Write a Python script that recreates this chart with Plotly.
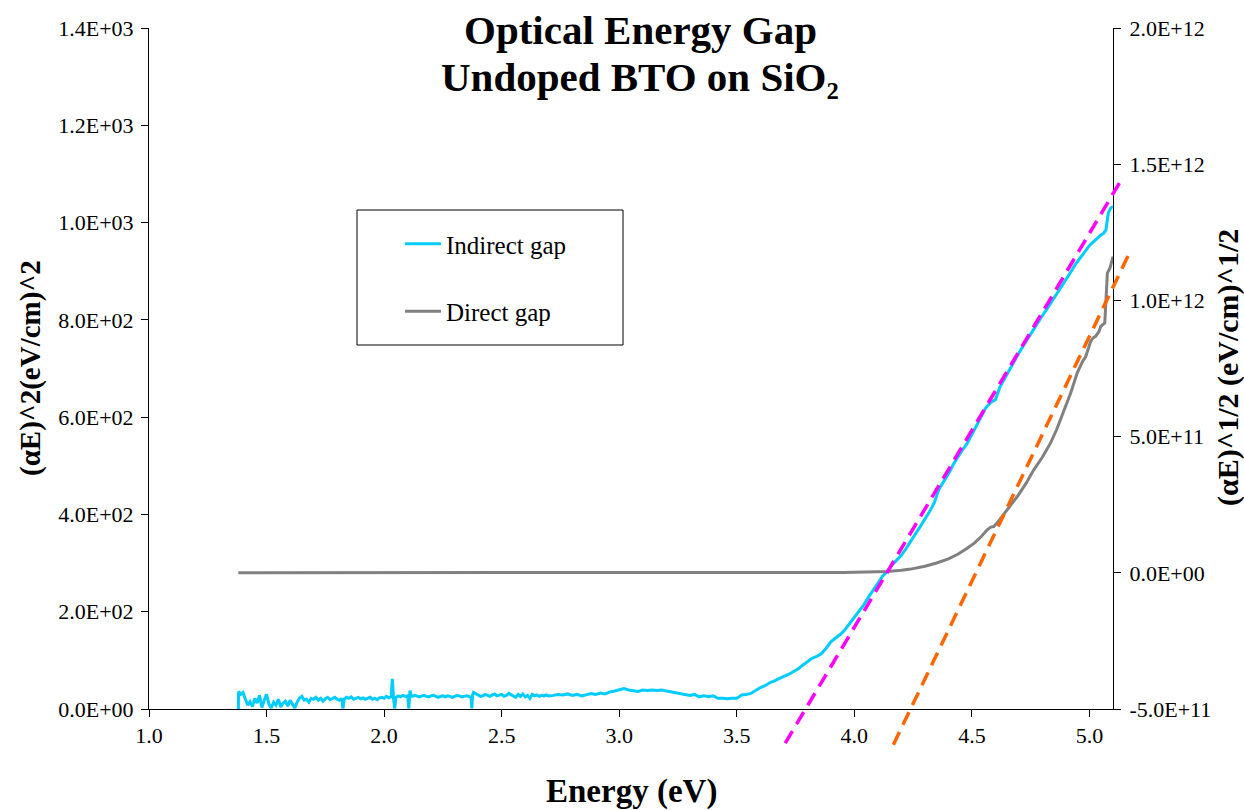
import plotly.graph_objects as go

# ---------------------------------------------------------------- data
# Indirect gap: (alpha*E)^2 versus photon energy (left axis)
indirect_E = [
    1.380, 1.381, 1.39, 1.40, 1.41, 1.42, 1.43, 1.44, 1.45, 1.46, 1.47, 1.48, 1.49,
    1.50, 1.51, 1.52, 1.53, 1.54, 1.55, 1.56, 1.57, 1.58, 1.59, 1.60, 1.61, 1.62,
    1.63, 1.64, 1.65, 1.66, 1.67, 1.68, 1.69, 1.70, 1.71, 1.72, 1.73, 1.74, 1.75,
    1.76, 1.77, 1.78, 1.79, 1.80, 1.81, 1.82, 1.825, 1.83, 1.84, 1.85, 1.86, 1.87,
    1.88, 1.89, 1.90, 1.91, 1.92, 1.93, 1.94, 1.95, 1.96, 1.97, 1.98, 1.99, 2.00,
    2.01, 2.02, 2.03, 2.035, 2.04, 2.045, 2.05, 2.06, 2.07, 2.08, 2.09, 2.10, 2.105,
    2.11, 2.115, 2.12, 2.13, 2.14, 2.15, 2.16, 2.17, 2.18, 2.19, 2.20, 2.21, 2.22,
    2.23, 2.24, 2.25, 2.26, 2.27, 2.28, 2.29, 2.30, 2.31, 2.32, 2.33, 2.34, 2.35,
    2.36, 2.37, 2.373, 2.376, 2.38, 2.39, 2.40, 2.41, 2.42, 2.43, 2.44, 2.45, 2.46,
    2.47, 2.48, 2.49, 2.50, 2.51, 2.52, 2.53, 2.54, 2.55, 2.56, 2.57, 2.58, 2.59,
    2.60, 2.61, 2.62, 2.63, 2.64, 2.65, 2.66, 2.67, 2.68, 2.69, 2.70, 2.72, 2.74,
    2.76, 2.78, 2.80, 2.82, 2.84, 2.86, 2.88, 2.90, 2.92, 2.94, 2.96, 2.98, 3.00,
    3.02, 3.04, 3.06, 3.08, 3.10, 3.12, 3.14, 3.16, 3.18, 3.20, 3.22, 3.24, 3.26,
    3.28, 3.30, 3.32, 3.34, 3.36, 3.38, 3.40, 3.42, 3.44, 3.46, 3.48, 3.50, 3.51,
    3.52, 3.54, 3.56, 3.58, 3.60, 3.62, 3.64, 3.66, 3.68, 3.70, 3.72, 3.74, 3.76,
    3.78, 3.80, 3.82, 3.84, 3.85, 3.86, 3.88, 3.90, 3.92, 3.94, 3.96, 3.98, 4.00,
    4.02, 4.04, 4.06, 4.08, 4.10, 4.12, 4.14, 4.16, 4.18, 4.20, 4.22, 4.24, 4.26,
    4.28, 4.30, 4.32, 4.34, 4.35, 4.36, 4.38, 4.40, 4.42, 4.44, 4.46, 4.48, 4.50,
    4.52, 4.54, 4.56, 4.58, 4.60, 4.62, 4.64, 4.66, 4.68, 4.70, 4.72, 4.74, 4.76,
    4.78, 4.80, 4.82, 4.84, 4.86, 4.88, 4.90, 4.92, 4.94, 4.96, 4.98, 5.00, 5.02,
    5.04, 5.05, 5.06, 5.07, 5.08, 5.09, 5.10,
]
indirect_val = [
    0, 36, 30, 34, 20, 8, 15, 5, 22, 12, 28, 3, 18,
    30, 10, 2, 14, 8, 20, 4, 12, 16, 6, 18, 10, 2,
    14, 22, 26, 18, 20, 14, 22, 20, 24, 18, 22, 16, 21,
    24, 19, 22, 24, 20, 18, 22, 1, 20, 24, 22, 25, 20,
    22, 24, 21, 23, 20, 22, 24, 20, 22, 19, 23, 24, 22,
    26, 23, 25, 62, 22, 1, 24, 27, 25, 28, 26, 27, 1,
    38, 27, 26, 28, 27, 25, 27, 28, 26, 25, 27, 28, 26,
    24, 26, 27, 25, 27, 26, 24, 26, 28, 27, 25, 26, 27,
    26, 24, 1, 28, 34, 31, 28, 26, 27, 30, 28, 26, 29,
    31, 27, 28, 30, 26, 28, 32, 29, 27, 24, 30, 26, 31,
    25, 28, 22, 30, 27, 29, 26, 28, 27, 29, 27, 28, 30,
    29, 31, 28, 30, 27, 30, 32, 30, 33, 31, 35, 37, 40,
    42, 39, 37, 36, 39, 38, 39, 38, 39, 37, 35, 34, 31,
    30, 28, 30, 25, 27, 25, 27, 22, 22, 21, 22, 22, 25,
    29, 30, 32, 38, 44, 48, 54, 58, 63, 67, 71, 76, 82,
    90, 98, 104, 108, 111, 114, 125, 138, 146, 153, 163, 176, 188,
    201, 214, 230, 244, 258, 273, 283, 296, 306, 316, 330, 344, 360,
    375, 390, 406, 424, 440, 452, 468, 483, 502, 518, 533, 546, 565,
    583, 601, 620, 630, 636, 663, 681, 697, 715, 732, 748, 764, 778,
    793, 809, 823, 838, 853, 866, 882, 898, 914, 927, 940, 953, 962,
    972, 975, 978, 985, 1020, 1030, 1033,
]

# Direct gap: (alpha*E)^(1/2) versus photon energy (right axis)
direct_E = [
    1.38, 2.00, 2.50, 3.00, 3.50, 3.80, 3.95, 4.05, 4.14, 4.20, 4.24, 4.30, 4.35,
    4.40, 4.44, 4.48, 4.51, 4.54, 4.565, 4.58, 4.593, 4.61, 4.622, 4.66, 4.693,
    4.73, 4.763, 4.80, 4.834, 4.86, 4.877, 4.90, 4.92, 4.948, 4.97, 4.984, 5.005,
    5.015, 5.026, 5.04, 5.048, 5.065, 5.072, 5.076, 5.087, 5.10,
]
direct_val = [
    0, 0, 0, 0, 0, 0.8e9, 1.5e9, 3.0e9, 4.8e9, 9e9, 1.36e10, 2.4e10, 3.6e10,
    5.1e10, 6.8e10, 9.0e10, 1.09e11, 1.33e11, 1.58e11, 1.68e11, 1.70e11, 1.86e11, 2.0e11, 2.40e11, 2.80e11,
    3.28e11, 3.78e11, 4.25e11, 4.76e11, 5.25e11, 5.62e11, 6.15e11, 6.60e11, 7.34e11, 7.75e11, 7.94e11, 8.49e11,
    8.62e11, 8.68e11, 8.85e11, 9.05e11, 9.17e11, 1.05e12, 1.10e12, 1.118e12, 1.161e12,
]

# Linear extrapolations of the absorption edges (end points)
indirect_fit_E = [3.706, 5.137]
indirect_fit_val = [-70, 1089]
direct_fit_E = [4.166, 5.166]
direct_fit_val = [-6.31e11, 1.167e12]

# Axis ticks
x_ticks = [1.0, 1.5, 2.0, 2.5, 3.0, 3.5, 4.0, 4.5, 5.0]
x_labels = [f"{v:.1f}" for v in x_ticks]
left_ticks = [0, 200, 400, 600, 800, 1000, 1200, 1400]
left_labels = [f"{v:.1E}" for v in left_ticks]
right_ticks = [-5e11, 0, 5e11, 1e12, 1.5e12, 2e12]
right_labels = [f"{v:.1E}" for v in right_ticks]

x_range = [1.0, 5.1]
left_range = [0, 1400]
right_range = [-5e11, 2e12]

# ---------------------------------------------------------------- layout geometry (pixels)
W, H = 1244, 810
PL, PR, PT, PB = 149, 1113, 28, 709      # plot area edges
PR_EXT, PB_EXT = 1160, 770                # area the edge extrapolations may run into

def fx(px):
    return px / W

def fy(py):
    return 1 - py / H

# ranges for the invisible overlay axes: same scale, larger area
x_per_px = (x_range[1] - x_range[0]) / (PR - PL)
left_per_px = (left_range[1] - left_range[0]) / (PB - PT)
right_per_px = (right_range[1] - right_range[0]) / (PB - PT)
x_ext_range = [x_range[0], x_range[1] + (PR_EXT - PR) * x_per_px]
left_ext_range = [left_range[0] - (PB_EXT - PB) * left_per_px, left_range[1]]
right_ext_range = [right_range[0] - (PB_EXT - PB) * right_per_px, right_range[1]]

FONT = "Liberation Serif"
BLUE = "#00CCFF"
GRAY = "#808080"
MAGENTA = "#FF00FF"
ORANGE = "#FF6600"

fig = go.Figure()

fig.add_trace(go.Scatter(
    x=indirect_E, y=indirect_val, mode="lines", name="Indirect gap",
    line=dict(color=BLUE, width=3), xaxis="x", yaxis="y",
    legendgroup="indirect",
))
fig.add_trace(go.Scatter(
    x=direct_E, y=direct_val, mode="lines", name="Direct gap",
    line=dict(color=GRAY, width=3), xaxis="x", yaxis="y2",
    legendgroup="direct",
))
fig.add_trace(go.Scatter(
    x=indirect_fit_E, y=indirect_fit_val, mode="lines", showlegend=False,
    line=dict(color=MAGENTA, width=3.5, dash="14px,8px"), xaxis="x3", yaxis="y3",
))
fig.add_trace(go.Scatter(
    x=direct_fit_E, y=direct_fit_val, mode="lines", showlegend=False,
    line=dict(color=ORANGE, width=3.5, dash="14px,8px"), xaxis="x3", yaxis="y5",
))

tickfont = dict(family=FONT, size=22, color="black")
axis_common = dict(showgrid=False, zeroline=False, showline=True, linecolor="black",
                   linewidth=1, ticks="outside", ticklen=7, tickcolor="black",
                   tickwidth=1, tickfont=tickfont, automargin=False)
hidden = dict(visible=False, automargin=False)

fig.update_layout(
    width=W, height=H,
    margin=dict(l=0, r=0, t=0, b=0, pad=0),
    paper_bgcolor="white", plot_bgcolor="rgba(0,0,0,0)",
    xaxis=dict(domain=[fx(PL), fx(PR)], range=x_range, anchor="y",
               tickvals=x_ticks, ticktext=x_labels, **axis_common),
    yaxis=dict(domain=[fy(PB), fy(PT)], range=left_range, anchor="x",
               tickvals=left_ticks, ticktext=left_labels, ticklabelstandoff=3,
               **axis_common),
    yaxis2=dict(overlaying="y", side="right", range=right_range, anchor="x",
                tickvals=right_ticks, ticktext=right_labels, ticklabelstandoff=4,
                **axis_common),
    yaxis4=dict(overlaying="y", side="right", range=right_range, anchor="x",
                tickvals=right_ticks, showticklabels=False, showline=False,
                showgrid=False, zeroline=False, ticks="inside", ticklen=7,
                tickcolor="black", tickwidth=1, automargin=False),
    xaxis3=dict(domain=[fx(PL), fx(PR_EXT)], range=x_ext_range, anchor="y3", **hidden),
    yaxis3=dict(domain=[fy(PB_EXT), fy(PT)], range=left_ext_range, anchor="x3", **hidden),
    yaxis5=dict(overlaying="y3", range=right_ext_range, anchor="x3", visible=False),
    showlegend=True,
    legend=dict(x=fx(400), y=fy(221), xanchor="left", yanchor="top",
                bgcolor="rgba(0,0,0,0)", borderwidth=0,
                font=dict(family=FONT, size=25, color="black"),
                traceorder="grouped", tracegroupgap=32, itemwidth=36),
    shapes=[dict(type="rect", xref="paper", yref="paper",
                 x0=fx(357), x1=fx(623), y0=fy(345), y1=fy(210),
                 line=dict(color="black", width=1), fillcolor="rgba(0,0,0,0)",
                 layer="below")],
)

title_font = dict(family=FONT, size=41, color="black")
annotations = [
    dict(text="<b>Optical Energy Gap</b>", x=fx(640), y=fy(30), font=title_font),
    dict(text="<b>Undoped BTO on SiO₂</b>", x=fx(640), y=fy(77), font=title_font),
    dict(text="<b>Energy (eV)</b>", x=fx(631), y=fy(791),
         font=dict(family=FONT, size=33, color="black")),
    dict(text="<b>(αE)^2(eV/cm)^2</b>", x=fx(30), y=fy(368), textangle=-90,
         font=dict(family=FONT, size=29, color="black")),
    dict(text="<b>(αE)^1/2 (eV/cm)^1/2</b>", x=fx(1228), y=fy(368), textangle=-90,
         font=dict(family=FONT, size=30, color="black")),
]
for a in annotations:
    a.update(xref="paper", yref="paper", xanchor="center", yanchor="middle",
             showarrow=False)
fig.update_layout(annotations=annotations)

fig.write_html("out.html")
